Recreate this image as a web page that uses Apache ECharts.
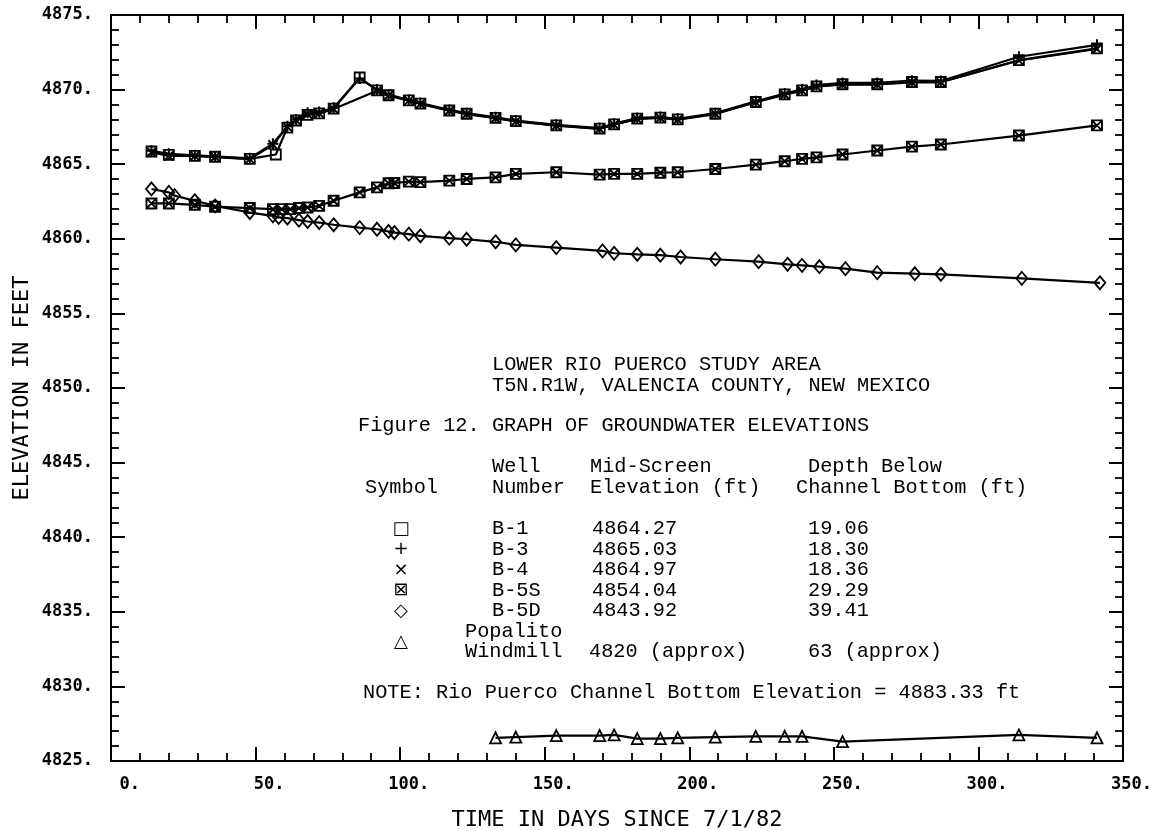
<!DOCTYPE html>
<html>
<head>
<meta charset="utf-8">
<script src="https://cdn.jsdelivr.net/npm/echarts@6/dist/echarts.min.js"></script>
<style>
  html, body { margin: 0; padding: 0; background: #ffffff; }
  #chart { width: 1167px; height: 831px; }
</style>
</head>
<body>
<div id="chart"></div>
<script>
// Axis ranges (days since 7/1/82, elevation in feet)
const X_MIN = 0, X_MAX = 350, X_STEP = 50;
const Y_MIN = 4825, Y_MAX = 4875, Y_STEP = 5;

// Well B-1
const daysB1 = [14,20,29,36,48,57,61,64,68,72,77,86,92,96,103,107,117,123,133,140,154,169,174,182,190,196,209,223,233,239,244,253,265,277,287,314,341];
const elevB1 = [4865.85,4865.62,4865.56,4865.50,4865.36,4865.65,4867.45,4867.93,4868.30,4868.40,4868.72,4870.81,4869.95,4869.62,4869.28,4869.06,4868.60,4868.38,4868.10,4867.89,4867.60,4867.38,4867.67,4868.05,4868.12,4868.00,4868.38,4869.17,4869.68,4869.95,4870.22,4870.36,4870.36,4870.51,4870.51,4871.97,4872.76];

// Well B-3
const daysB3 = [14,20,29,36,48,56,61,64,68,72,77,86,92,96,103,107,117,123,133,140,154,169,174,182,190,196,209,223,233,239,244,253,265,277,287,314,341];
const elevB3 = [4865.90,4865.70,4865.60,4865.52,4865.40,4866.37,4867.55,4868.00,4868.45,4868.50,4868.78,4870.75,4870.00,4869.66,4869.30,4869.10,4868.64,4868.42,4868.14,4867.92,4867.64,4867.42,4867.72,4868.10,4868.16,4868.04,4868.42,4869.22,4869.74,4870.02,4870.30,4870.45,4870.45,4870.60,4870.58,4872.20,4873.00];

// Well B-4
const daysB4 = [14,20,29,36,48,56,61,64,68,72,77,92,96,103,107,117,123,133,140,154,169,174,182,190,196,209,223,233,239,244,253,265,277,287,314,341];
const elevB4 = [4865.80,4865.55,4865.55,4865.48,4865.34,4866.30,4867.50,4867.95,4868.35,4868.42,4868.70,4869.92,4869.60,4869.26,4869.04,4868.58,4868.36,4868.08,4867.87,4867.58,4867.36,4867.65,4868.03,4868.10,4867.98,4868.36,4869.15,4869.66,4869.93,4870.20,4870.34,4870.34,4870.49,4870.49,4871.95,4872.72];

// Well B-5S
const daysB5S = [14,20,29,36,48,56,59,62,65,68,72,77,86,92,96,98,103,107,117,123,133,140,154,169,174,182,190,196,209,223,233,239,244,253,265,277,287,314,341];
const elevB5S = [4862.37,4862.37,4862.28,4862.15,4862.06,4861.99,4861.99,4861.99,4862.06,4862.10,4862.21,4862.55,4863.11,4863.45,4863.72,4863.74,4863.83,4863.80,4863.90,4864.01,4864.12,4864.35,4864.46,4864.30,4864.35,4864.35,4864.43,4864.46,4864.68,4864.97,4865.20,4865.36,4865.46,4865.65,4865.92,4866.18,4866.32,4866.92,4867.60];

// Well B-5D
const daysB5D = [14,20,22,29,36,48,56,58,61,65,68,72,77,86,92,96,98,103,107,117,123,133,140,154,170,174,182,190,197,209,224,234,239,245,254,265,278,287,315,342];
const elevB5D = [4863.34,4863.11,4862.89,4862.55,4862.21,4861.76,4861.54,4861.43,4861.39,4861.25,4861.16,4861.09,4860.94,4860.75,4860.64,4860.49,4860.42,4860.31,4860.20,4860.04,4859.97,4859.80,4859.59,4859.41,4859.19,4859.03,4858.96,4858.90,4858.78,4858.63,4858.47,4858.29,4858.22,4858.13,4858.00,4857.73,4857.66,4857.62,4857.35,4857.05];

// Popalito Windmill
const daysPop = [133,140,154,169,174,182,190,196,209,223,233,239,253,314,341];
const elevPop = [4826.55,4826.60,4826.70,4826.70,4826.75,4826.50,4826.50,4826.55,4826.60,4826.65,4826.65,4826.65,4826.30,4826.75,4826.55];

// Legend table rows: symbol, well number, mid-screen elevation, depth below channel bottom
const tableSymbols = ['\u25A1', '+', '\u00D7', '\u22A0', '\u25C7'];
const tableWells   = ['B-1', 'B-3', 'B-4', 'B-5S', 'B-5D'];
const tableElev    = ['4864.27', '4865.03', '4864.97', '4854.04', '4843.92'];
const tableDepth   = ['19.06', '18.30', '18.36', '29.29', '39.41'];

const SYM_PLUS  = 'path://M5 0L5 10M0 5L10 5';
const SYM_CROSS = 'path://M0 0L10 10M10 0L0 10';
const SYM_BOXX  = 'path://M0 0L10 0L10 10L0 10ZM0 0L10 10M10 0L0 10';

function well(name, days, elev, symbol, size, bw) {
  return {
    name: name,
    type: 'line',
    data: days.map((d, i) => [d, elev[i]]),
    symbol: symbol,
    symbolSize: size,
    showAllSymbol: true,
    lineStyle: { color: '#000', width: 2.2 },
    itemStyle: { color: 'rgba(0,0,0,0)', borderColor: '#000', borderWidth: bw },
    emphasis: { disabled: true },
    silent: true,
    animation: false
  };
}

const TICK_FONT = 'DejaVu Sans Mono';
const TYPE_FONT = 'Liberation Mono';

function frameAxis(extra) {
  return Object.assign({
    type: 'value',
    axisLine: { show: true, onZero: false, lineStyle: { color: '#000', width: 2 } },
    axisTick: { show: true, inside: true, length: 14, lineStyle: { color: '#000', width: 2 } },
    minorTick: { show: true, splitNumber: 5, length: 8, lineStyle: { color: '#000', width: 1.8 } },
    splitLine: { show: false },
    minorSplitLine: { show: false }
  }, extra);
}

const xAxes = [
  frameAxis({
    min: X_MIN, max: X_MAX, interval: X_STEP, position: 'bottom',
    axisLabel: {
      show: true, align: 'left', margin: 15,
      formatter: v => '{t|' + v + '.}',
      rich: { t: { width: 29, align: 'right', fontFamily: TICK_FONT, fontWeight: 'bold', fontSize: 17, color: '#000' } }
    }
  }),
  frameAxis({ min: X_MIN, max: X_MAX, interval: X_STEP, position: 'top', axisLabel: { show: false } })
];

const yAxes = [
  frameAxis({
    min: Y_MIN, max: Y_MAX, interval: Y_STEP, position: 'left',
    axisLabel: {
      show: true, margin: 18, formatter: v => v + '.',
      padding: [5, 0, 0, 0],
      fontFamily: TICK_FONT, fontWeight: 'bold', fontSize: 17, color: '#000'
    }
  }),
  frameAxis({ min: Y_MIN, max: Y_MAX, interval: Y_STEP, position: 'right', axisLabel: { show: false } })
];

function txt(x, y, s, opts) {
  const o = opts || {};
  return {
    type: 'text', x: x, y: y, rotation: o.rotation || 0, silent: true,
    style: {
      text: s,
      fontFamily: o.font || TYPE_FONT,
      fontSize: o.size || 20.3,
      fontWeight: o.weight || 'normal',
      fill: '#000',
      align: o.align || 'left', textAlign: o.align || 'left',
      verticalAlign: 'middle', textVerticalAlign: 'middle'
    }
  };
}

const graphics = [
  txt(22, 388, 'ELEVATION IN FEET', { font: TICK_FONT, size: 22, rotation: Math.PI / 2, align: 'center' }),
  txt(617, 820, 'TIME IN DAYS SINCE 7/1/82', { font: TICK_FONT, size: 22, align: 'center' }),
  txt(492, 365, 'LOWER RIO PUERCO STUDY AREA'),
  txt(492, 386, 'T5N.R1W, VALENCIA COUNTY, NEW MEXICO'),
  txt(358, 426, 'Figure 12. GRAPH OF GROUNDWATER ELEVATIONS'),
  txt(492, 467, 'Well'),
  txt(590, 467, 'Mid-Screen'),
  txt(808, 467, 'Depth Below'),
  txt(365, 488, 'Symbol'),
  txt(492, 488, 'Number'),
  txt(590, 488, 'Elevation (ft)'),
  txt(796, 488, 'Channel Bottom (ft)')
];
const rowY = [529, 549.5, 570, 590.5, 611];
tableWells.forEach((w, i) => {
  graphics.push(txt(401, rowY[i], tableSymbols[i], { font: 'DejaVu Sans', size: 18, align: 'center' }));
  graphics.push(txt(492, rowY[i], w));
  graphics.push(txt(592, rowY[i], tableElev[i]));
  graphics.push(txt(808, rowY[i], tableDepth[i]));
});
graphics.push(txt(401, 642, '\u25B3', { font: 'DejaVu Sans', size: 18, align: 'center' }));
graphics.push(txt(465, 631.5, 'Popalito'));
graphics.push(txt(465, 652, 'Windmill'));
graphics.push(txt(589, 652, '4820 (approx)'));
graphics.push(txt(808, 652, '63 (approx)'));
graphics.push(txt(363, 693, 'NOTE: Rio Puerco Channel Bottom Elevation = 4883.33 ft'));

const chart = echarts.init(document.getElementById('chart'), null, { renderer: 'canvas' });
chart.setOption({
  animation: false,
  backgroundColor: '#ffffff',
  grid: { left: 111, right: 44, top: 15, bottom: 70, containLabel: false },
  xAxis: xAxes,
  yAxis: yAxes,
  series: [
    well('B-1', daysB1, elevB1, 'rect', 10, 1.8),
    well('B-3', daysB3, elevB3, SYM_PLUS, 11, 2),
    well('B-4', daysB4, elevB4, SYM_CROSS, 9, 2),
    well('B-5S', daysB5S, elevB5S, SYM_BOXX, 10, 1.9),
    well('B-5D', daysB5D, elevB5D, 'diamond', [11, 13], 1.8),
    well('Popalito Windmill', daysPop, elevPop, 'triangle', 11, 1.8)
  ],
  graphic: graphics
});
</script>
</body>
</html>
